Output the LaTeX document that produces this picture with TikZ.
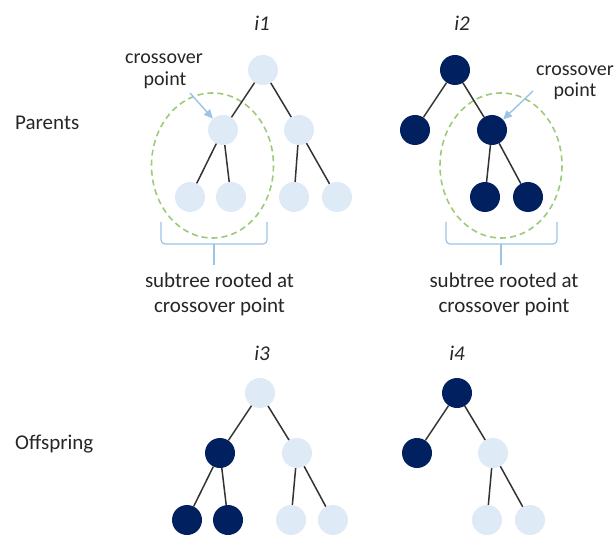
\documentclass[tikz,border=0pt]{standalone}
\usepackage{fontspec}
\setmainfont{Carlito}
\usetikzlibrary{arrows.meta}
\definecolor{lightnode}{HTML}{DEEAF6}
\definecolor{darknode}{HTML}{002060}
\definecolor{edgecol}{HTML}{333333}
\definecolor{dashgreen}{HTML}{9CCB78}
\definecolor{bracecol}{HTML}{9DC3E6}
\definecolor{txt}{HTML}{262626}
\tikzset{
  lt/.style={circle, fill=lightnode, minimum size=30bp, inner sep=0pt},
  dk/.style={circle, fill=darknode, minimum size=30bp, inner sep=0pt},
  edge/.style={draw=edgecol, line width=1.5bp},
  sel/.style={draw=dashgreen, line width=1.6bp, dash pattern=on 6bp off 4bp},
  bracepath/.style={draw=bracecol, line width=1.2bp, rounded corners=4bp},
  ptr/.style={draw=bracecol, line width=1.4bp, -{Triangle[length=9bp,width=8bp]}},
  lbl/.style={text=txt, inner sep=0pt, font=\fontsize{21bp}{25bp}\selectfont},
  sml/.style={text=txt, inner sep=0pt, font=\fontsize{20bp}{24bp}\selectfont},
  ttl/.style={text=txt, inner sep=0pt, font=\fontsize{21bp}{25bp}\selectfont\itshape},
}
\begin{document}
\begin{tikzpicture}[x=1bp, y=-1bp]
\useasboundingbox (0,0) rectangle (615,536);

% side labels
\node[lbl, anchor=base west] (parents) at (15,130) {Parents};
\node[lbl, anchor=base west] (offspring) at (15,449) {Offspring};

% titles
\node[ttl] (ti1) at (262,23) {i1};
\node[ttl] (ti2) at (462,23) {i2};
\node[ttl] (ti3) at (262,353) {i3};
\node[ttl] (ti4) at (457,353) {i4};

% selection ellipses
\draw[sel] (212.5,165.5) ellipse [x radius=61, y radius=72.5];
\draw[sel] (501,165.5) ellipse [x radius=61, y radius=72.5];

% tree i1
\node[lt] (a1) at (263,70) {};
\node[lt] (a2) at (223,130) {};
\node[lt] (a3) at (299,130) {};
\node[lt] (a4) at (190,197) {};
\node[lt] (a5) at (231,197) {};
\node[lt] (a6) at (294,197) {};
\node[lt] (a7) at (337,197) {};
\draw[edge] (a1) -- (a2); \draw[edge] (a1) -- (a3);
\draw[edge] (a2) -- (a4); \draw[edge] (a2) -- (a5);
\draw[edge] (a3) -- (a6); \draw[edge] (a3) -- (a7);

% tree i2
\node[dk] (b1) at (455,70) {};
\node[dk] (b2) at (415,130) {};
\node[dk] (b3) at (492,130) {};
\node[dk] (b4) at (485,197) {};
\node[dk] (b5) at (528,197) {};
\draw[edge] (b1) -- (b2); \draw[edge] (b1) -- (b3);
\draw[edge] (b3) -- (b4); \draw[edge] (b3) -- (b5);

% tree i3
\node[lt] (c1) at (260,393) {};
\node[dk] (c2) at (220,453) {};
\node[lt] (c3) at (297,453) {};
\node[dk] (c4) at (187,520) {};
\node[dk] (c5) at (228,520) {};
\node[lt] (c6) at (291,520) {};
\node[lt] (c7) at (333,520) {};
\draw[edge] (c1) -- (c2); \draw[edge] (c1) -- (c3);
\draw[edge] (c2) -- (c4); \draw[edge] (c2) -- (c5);
\draw[edge] (c3) -- (c6); \draw[edge] (c3) -- (c7);

% tree i4
\node[dk] (d1) at (457,393) {};
\node[dk] (d2) at (417,453) {};
\node[lt] (d3) at (493,453) {};
\node[lt] (d4) at (487,520) {};
\node[lt] (d5) at (530,520) {};
\draw[edge] (d1) -- (d2); \draw[edge] (d1) -- (d3);
\draw[edge] (d3) -- (d4); \draw[edge] (d3) -- (d5);

% crossover point labels and pointers
\node[sml, anchor=base] (cp1a) at (164,64) {crossover};
\node[sml, anchor=base] (cp1b) at (165,86) {point};
\node[sml, anchor=base] (cp2a) at (575,76) {crossover};
\node[sml, anchor=base] (cp2b) at (575,97) {point};
\coordinate (p1) at (190,93);
\coordinate (p2) at (533,91);
\draw[ptr] (p1) -- (a2);
\draw[ptr] (p2) -- (b3);

% braces
\draw[bracepath] (161,222) -- (161,244) -- (267,244) -- (267,222);
\draw[bracepath] (214,244) -- (214,265);
\draw[bracepath] (446,222) -- (446,244) -- (557,244) -- (557,222);
\draw[bracepath] (501,244) -- (501,265);

% subtree captions
\node[lbl, anchor=base] (s1a) at (219.5,287) {subtree rooted at};
\node[lbl, anchor=base] (s1b) at (219.5,312) {crossover point};
\node[lbl, anchor=base] (s2a) at (504,287) {subtree rooted at};
\node[lbl, anchor=base] (s2b) at (504,312) {crossover point};
\end{tikzpicture}
\end{document}
